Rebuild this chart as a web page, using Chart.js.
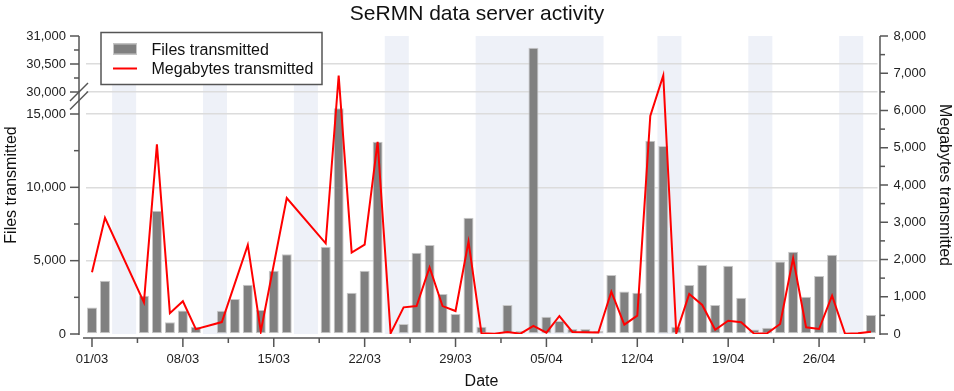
<!DOCTYPE html>
<html>
<head>
<meta charset="utf-8">
<script src="https://cdn.jsdelivr.net/npm/chart.js@4"></script>
<style>
  html, body { margin:0; padding:0; background:#fff; }
</style>
</head>
<body>
<canvas id="activityChart" width="954" height="391"></canvas>
<script>
// one entry per day, 01/03 .. 30/04
const dateLabels = [
  '01/03','02/03','03/03','04/03','05/03','06/03','07/03','08/03','09/03','10/03',
  '11/03','12/03','13/03','14/03','15/03','16/03','17/03','18/03','19/03','20/03',
  '21/03','22/03','23/03','24/03','25/03','26/03','27/03','28/03','29/03','30/03',
  '31/03','01/04','02/04','03/04','04/04','05/04','06/04','07/04','08/04','09/04',
  '10/04','11/04','12/04','13/04','14/04','15/04','16/04','17/04','18/04','19/04',
  '20/04','21/04','22/04','23/04','24/04','25/04','26/04','27/04','28/04','29/04',
  '30/04'
];

const filesSent = [
  1800, 3630, null, null, 2610, 8400, 800, 1610, 500, null,
  1590, 2390, 3350, 1640, 4320, 5430, null, null, 5950, 19000,
  2820, 4320, 13110, 90, 680, 5540, 6070, 2730, 1360, 7930,
  500, 30, 1980, 205, 30790, 1180, 880, 340, 340, 205,
  4020, 2890, 2820, 13180, 12820, 500, 3340, 4700, 1980, 4650,
  2480, 300, 430, 4950, 5610, 2545, 3960, 5410, null, null,
  1295
];

const megabytesSent = [
  1660, 3120, null, null, 850, 5090, 560, 880, 130, null,
  320, null, 2390, 70, null, 3650, null, null, 2435, 6940,
  2185, 2400, 5160, 18, 716, 750, 1790, 750, 617, 2480,
  18, 10, 54, 8, 220, 35, 483, 55, 50, 40,
  1136, 250, 492, 5853, 6940, 18, 1074, 779, 115, 355,
  314, 8, 18, 268, 2032, 180, 134, 1028, 5, 18,
  62
];

const xTickLabels = ['01/03','08/03','15/03','22/03','29/03','05/04','12/04','19/04','26/04'];
const leftTicks = [0, 5000, 10000, 15000, 30000, 30500, 31000];
const leftMinorTicks = [2500, 7500, 12500, 30250, 30750];
const rightMinorTicks = [500, 1500, 2500, 3500, 4500, 5500, 6500, 7500];
const shadedDays = [
  ['03/03','04/03'], ['10/03','11/03'], ['17/03','18/03'], ['24/03','25/03'],
  ['31/03','09/04'], ['14/04','15/04'], ['21/04','22/04'], ['28/04','29/04']
];

// piecewise mapping for the broken left axis
const leftBreak = { values: [0, 15000, 30000, 31000], fracs: [0, 220/298, 242/298, 1] };

class BrokenLinearScale extends Chart.LinearScale {
  valueToFrac(v) {
    const {values, fracs} = leftBreak;
    for (let i = 1; i < values.length; i++) {
      if (v <= values[i] || i === values.length - 1) {
        const t = (v - values[i-1]) / (values[i] - values[i-1]);
        return fracs[i-1] + t * (fracs[i] - fracs[i-1]);
      }
    }
  }
  fracToValue(f) {
    const {values, fracs} = leftBreak;
    for (let i = 1; i < fracs.length; i++) {
      if (f <= fracs[i] || i === fracs.length - 1) {
        const t = (f - fracs[i-1]) / (fracs[i] - fracs[i-1]);
        return values[i-1] + t * (values[i] - values[i-1]);
      }
    }
  }
  getPixelForValue(value) {
    if (value === null || value === undefined || isNaN(value)) return NaN;
    return this.getPixelForDecimal(this.valueToFrac(value));
  }
  getValueForPixel(pixel) {
    return this.fracToValue(this.getDecimalForPixel(pixel));
  }
}
BrokenLinearScale.id = 'brokenLinear';
Chart.register(BrokenLinearScale);

Chart.defaults.font.family = '"Liberation Sans", Arial, sans-serif';
Chart.defaults.color = '#222';

const axisColor = '#555';

const decorPlugin = {
  id: 'decor',
  beforeDraw(chart) {
    const {ctx, chartArea: a, scales: {x}} = chart;
    const w = x.getPixelForValue(1) - x.getPixelForValue(0);
    ctx.save();
    ctx.fillStyle = '#eef1f8';
    shadedDays.forEach(([from, to]) => {
      const x0 = x.getPixelForValue(dateLabels.indexOf(from)) - 0.45 * w;
      const x1 = x.getPixelForValue(dateLabels.indexOf(to)) + 0.4 * w;
      ctx.fillRect(x0, a.top, x1 - x0, a.bottom - a.top);
    });
    ctx.restore();
  },
  afterDraw(chart) {
    const {ctx, chartArea: a, scales: {x, yFiles, yMB}} = chart;
    ctx.save();
    ctx.strokeStyle = axisColor;
    ctx.lineWidth = 1.5;

    const line = (x0, y0, x1, y1) => { ctx.beginPath(); ctx.moveTo(x0, y0); ctx.lineTo(x1, y1); ctx.stroke(); };

    // left axis
    const lx = a.left - 6.5;
    line(lx, a.top, lx, a.bottom + 1);
    leftTicks.forEach(v => { const y = yFiles.getPixelForValue(v); line(lx - 9, y, lx, y); });
    leftMinorTicks.forEach(v => { const y = yFiles.getPixelForValue(v); line(lx - 5, y, lx, y); });
    // break marks
    const by = yFiles.getPixelForValue(30000);
    [0, 8.5].forEach(d => line(lx - 9, by + d + 9, lx + 9, by + d - 9));

    // right axis
    const rx = a.right + 2.5;
    line(rx, a.top, rx, a.bottom + 1);
    yMB.ticks.forEach(t => { const y = yMB.getPixelForValue(t.value); line(rx, y, rx + 8, y); });
    rightMinorTicks.forEach(v => { const y = yMB.getPixelForValue(v); line(rx, y, rx + 5, y); });

    // bottom axis
    const bx = a.bottom + 4;
    line(a.left - 2.5, bx, a.right - 2.5, bx);
    xTickLabels.forEach(lbl => {
      const i = dateLabels.indexOf(lbl);
      const px = x.getPixelForValue(i);
      line(px, bx, px, bx + 9);
      const mx = x.getPixelForValue(i + 3.5);
      if (mx < a.right) line(mx, bx, mx, bx + 5);
    });

    // legend
    ctx.fillStyle = '#fff';
    ctx.fillRect(101, 32.5, 221, 52);
    ctx.lineWidth = 1.5;
    ctx.strokeRect(101, 32.5, 221, 52);
    ctx.fillStyle = '#808080';
    ctx.fillRect(113, 43.5, 24, 11);
    ctx.strokeStyle = '#c8c8c8';
    ctx.lineWidth = 1;
    ctx.strokeRect(113.5, 44, 23, 10);
    ctx.strokeStyle = '#ff0000';
    ctx.lineWidth = 2;
    line(113, 68.5, 137, 68.5);
    ctx.fillStyle = '#111';
    ctx.font = '16px "Liberation Sans", Arial, sans-serif';
    ctx.textBaseline = 'alphabetic';
    ctx.fillText('Files transmitted', 151.5, 54.5);
    ctx.fillText('Megabytes transmitted', 151.5, 73.5);
    ctx.restore();
  }
};

new Chart(document.getElementById('activityChart'), {
  type: 'bar',
  data: {
    labels: dateLabels,
    datasets: [
      {
        type: 'line',
        label: 'Megabytes transmitted',
        data: megabytesSent,
        yAxisID: 'yMB',
        borderColor: '#ff0000',
        borderWidth: 2,
        pointRadius: 0,
        tension: 0,
        spanGaps: true,
        order: 0
      },
      {
        label: 'Files transmitted',
        data: filesSent,
        yAxisID: 'yFiles',
        backgroundColor: '#808080',
        borderColor: '#c8c8c8',
        borderWidth: 1,
        borderSkipped: false,
        barPercentage: 0.77,
        categoryPercentage: 1,
        order: 1
      }
    ]
  },
  options: {
    responsive: false,
    devicePixelRatio: 1,
    animation: false,
    layout: { padding: 0 },
    plugins: {
      legend: { display: false },
      tooltip: { enabled: false },
      title: {
        display: true,
        text: 'SeRMN data server activity',
        font: { size: 21, weight: 'normal' },
        color: '#111',
        padding: { top: 2, bottom: 8.8 }
      }
    },
    scales: {
      x: {
        type: 'category',
        offset: true,
        afterFit: s => { s.height = 57; },
        grid: { display: true, drawOnChartArea: false, drawTicks: true, tickLength: 15, tickColor: 'rgba(0,0,0,0)' },
        border: { display: false },
        ticks: {
          autoSkip: false, maxRotation: 0, minRotation: 0, padding: 3,
          font: { size: 13 },
          callback: (v, i) => xTickLabels.includes(dateLabels[i]) ? dateLabels[i] : ''
        },
        title: { display: true, text: 'Date', font: { size: 16 }, color: '#111', padding: { top: 0, bottom: 0 } }
      },
      yFiles: {
        type: 'brokenLinear',
        position: 'left',
        min: 0,
        max: 31000,
        afterBuildTicks: s => { s.ticks = leftTicks.map(v => ({ value: v })); },
        afterFit: s => { s.width = 85.5; },
        grid: {
          drawTicks: true, tickLength: 16, tickColor: 'rgba(0,0,0,0)', lineWidth: 1.5,
          color: c => (c.tick && c.tick.value > 0 && c.tick.value < 31000) ? '#dcdcdc' : 'rgba(0,0,0,0)'
        },
        border: { display: false },
        ticks: { padding: 3.5, font: { size: 13 }, callback: v => v.toLocaleString('en-US') },
        title: { display: true, text: 'Files transmitted', font: { size: 16 }, color: '#111', padding: { top: 2, bottom: 0 } }
      },
      yMB: {
        type: 'linear',
        position: 'right',
        min: 0,
        max: 8000,
        afterFit: s => { s.width = 76.5; },
        grid: { drawOnChartArea: false, drawTicks: true, tickLength: 13, tickColor: 'rgba(0,0,0,0)' },
        border: { display: false },
        ticks: { stepSize: 1000, padding: 3, font: { size: 13 }, callback: v => v.toLocaleString('en-US') },
        title: { display: true, text: 'Megabytes transmitted', font: { size: 16 }, color: '#111', padding: { top: 0, bottom: 0 } }
      }
    }
  },
  plugins: [decorPlugin]
});
</script>
</body>
</html>
